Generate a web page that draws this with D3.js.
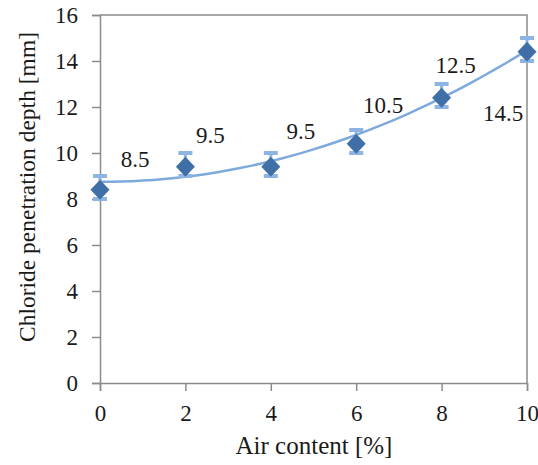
<!DOCTYPE html>
<html>
<head>
<meta charset="utf-8">
<script src="https://cdn.jsdelivr.net/npm/d3@7"></script>
<style>
  body { margin: 0; background: #fff; }
  text { font-family: 'Liberation Serif', 'Times New Roman', serif; fill: #1a1a1a; }
</style>
</head>
<body>
<div id="chart-container"></div>
<script>
// data
const airContent = [0, 2, 4, 6, 8, 10]
const depth = [8.4, 9.4, 9.4, 10.4, 12.4, 14.4]
const errTop = [9.0, 10.0, 10.0, 11.0, 13.0, 15.0]
const errBottom = [8.0, 9.0, 9.0, 10.0, 12.0, 14.0]
const labels = ['8.5', '9.5', '9.5', '10.5', '12.5', '14.5']
const labelValues = [8.5, 9.5, 9.5, 10.5, 12.5, 14.5]
const xTicks = [0, 2, 4, 6, 8, 10]
const yTicks = [0, 2, 4, 6, 8, 10, 12, 14, 16]

// constants
const width = 538
const height = 465
const margin = {left: 100, top: 15, right: 11, bottom: 82}
const plotW = width - margin.left - margin.right
const plotH = height - margin.top - margin.bottom
const fontSize = '23px'
// label nudges (px), placed by hand in the original
const labelShift = [[35, -23], [25, -24], [30, -28], [27, -31], [14, -25], [-24, 69]]

const svg = d3.select('#chart-container')
  .append('svg')
  .attr('width', width)
  .attr('height', height)

const g = svg.append('g')
  .attr('transform', `translate(${margin.left}, ${margin.top})`)

const x = d3.scaleLinear().domain([0, 10]).range([0, plotW])
const y = d3.scaleLinear().domain([0, 16]).range([plotH, 0])

// frame (top and right)
g.append('path')
  .attr('d', `M0,0H${plotW}V${plotH}`)
  .attr('fill', 'none')
  .attr('stroke', '#8c8c8c')
  .attr('stroke-width', 1.5)

// axes
const yAxis = g.append('g')
  .call(d3.axisLeft(y).tickValues(yTicks).tickSize(8).tickPadding(14))
const xAxis = g.append('g')
  .attr('transform', `translate(0, ${plotH})`)
  .call(d3.axisBottom(x).tickValues(xTicks).tickSize(8).tickPadding(14))

;[yAxis, xAxis].forEach(a => {
  a.attr('font-family', null).attr('font-size', null)
  a.selectAll('path, line').attr('stroke', '#8c8c8c').attr('stroke-width', 1.5)
  a.selectAll('text').style('font-size', fontSize).attr('fill', '#1a1a1a')
})

// quadratic least-squares trendline through the labelled values
function polyFit (xs, ys) {
  const n = xs.length
  const s = k => d3.sum(xs, v => Math.pow(v, k))
  const sy = k => d3.sum(xs, (v, i) => Math.pow(v, k) * ys[i])
  const A = [[n, s(1), s(2)], [s(1), s(2), s(3)], [s(2), s(3), s(4)]]
  const B = [sy(0), sy(1), sy(2)]
  // gaussian elimination
  for (let i = 0; i < 3; i++) {
    for (let j = i + 1; j < 3; j++) {
      const f = A[j][i] / A[i][i]
      for (let k = i; k < 3; k++) A[j][k] -= f * A[i][k]
      B[j] -= f * B[i]
    }
  }
  const c = [0, 0, 0]
  for (let i = 2; i >= 0; i--) {
    let v = B[i]
    for (let k = i + 1; k < 3; k++) v -= A[i][k] * c[k]
    c[i] = v / A[i][i]
  }
  return c
}
const coef = polyFit(airContent, labelValues)
const trendX = d3.range(0, 10.01, 0.25)
g.append('path')
  .datum(trendX)
  .attr('fill', 'none')
  .attr('stroke', '#7ea9dc')
  .attr('stroke-width', 2.5)
  .attr('d', d3.line()
    .x(d => x(d))
    .y(d => y(coef[0] + coef[1] * d + coef[2] * d * d)))

// error bars
const eb = g.append('g').selectAll('g')
  .data(airContent).enter()
  .append('g')
eb.append('line')
  .attr('x1', d => x(d)).attr('x2', d => x(d))
  .attr('y1', (d, i) => y(errTop[i])).attr('y2', (d, i) => y(errBottom[i]))
  .attr('stroke', '#8db4e3').attr('stroke-width', 3)
eb.append('line')
  .attr('x1', d => x(d) - 7).attr('x2', d => x(d) + 7)
  .attr('y1', (d, i) => y(errTop[i])).attr('y2', (d, i) => y(errTop[i]))
  .attr('stroke', '#8db4e3').attr('stroke-width', 4)
eb.append('line')
  .attr('x1', d => x(d) - 7).attr('x2', d => x(d) + 7)
  .attr('y1', (d, i) => y(errBottom[i])).attr('y2', (d, i) => y(errBottom[i]))
  .attr('stroke', '#8db4e3').attr('stroke-width', 4)

// markers
g.append('g').selectAll('path')
  .data(airContent).enter()
  .append('path')
  .attr('transform', (d, i) => `translate(${x(d)}, ${y(depth[i])})`)
  .attr('d', 'M0,-10L9.5,0L0,10L-9.5,0Z')
  .attr('fill', '#3f6fa6')

// data labels
g.append('g').selectAll('text')
  .data(airContent).enter()
  .append('text')
  .attr('x', (d, i) => x(d) + labelShift[i][0])
  .attr('y', (d, i) => y(depth[i]) + labelShift[i][1])
  .attr('text-anchor', 'middle')
  .style('font-size', fontSize)
  .text((d, i) => labels[i])

// axis titles
svg.append('text')
  .attr('x', 314)
  .attr('y', 454)
  .attr('text-anchor', 'middle')
  .style('font-size', '25px')
  .text('Air content [%]')

svg.append('text')
  .attr('transform', 'translate(35, 187) rotate(-90)')
  .attr('text-anchor', 'middle')
  .style('font-size', '23.5px')
  .text('Chloride penetration depth [mm]')
</script>
</body>
</html>
